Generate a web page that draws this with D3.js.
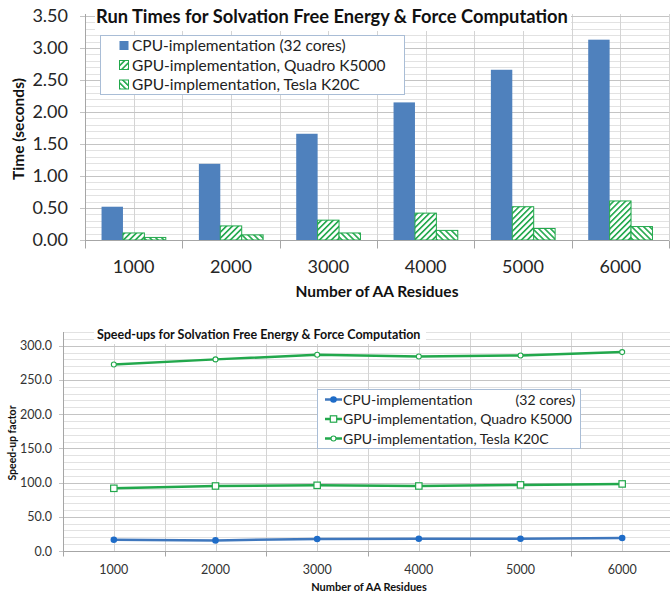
<!DOCTYPE html>
<html>
<head>
<meta charset="utf-8">
<script src="https://cdn.jsdelivr.net/npm/d3@7"></script>
<style>
  body { margin: 0; background: #fff; }
  svg { display: block; font-family: Lato, "Open Sans", sans-serif; }
</style>
</head>
<body>
<svg id="chart" width="670" height="593"></svg>
<script>
// data
var residues = ["1000", "2000", "3000", "4000", "5000", "6000"];
var seriesNames = ["CPU-implementation (32 cores)", "GPU-implementation, Quadro K5000", "GPU-implementation, Tesla K20C"];
var lineLegendNames = ["CPU-implementation            (32 cores)", "GPU-implementation, Quadro K5000", "GPU-implementation, Tesla K20C"];

var cpuTimes = [0.52, 1.19, 1.66, 2.15, 2.66, 3.13];
var quadroTimes = [0.11, 0.22, 0.31, 0.42, 0.52, 0.61];
var teslaTimes = [0.04, 0.08, 0.11, 0.15, 0.18, 0.21];

var cpuSpeedup = [16.5, 15.5, 17.5, 18.0, 18.0, 19.0];
var quadroSpeedup = [91.6, 95.0, 96.0, 95.0, 96.6, 98.0];
var teslaSpeedup = [272.6, 280.0, 286.7, 284.3, 285.7, 290.6];

var timeTicks = [0, 0.5, 1.0, 1.5, 2.0, 2.5, 3.0, 3.5];
var speedTicks = [0, 50, 100, 150, 200, 250, 300];

var blue = "#4f81bd";
var green = "#22a84c";
var minorGrid = "#e2e2e2";
var majorGrid = "#c4c4c4";

var svg = d3.select("#chart");
var defs = svg.append("defs");

// hatch fills for the GPU bars
function hatch(id, angle) {
  var p = defs.append("pattern")
    .attr("id", id)
    .attr("patternUnits", "userSpaceOnUse")
    .attr("width", 4.2)
    .attr("height", 4.2)
    .attr("patternTransform", "rotate(" + angle + ")");
  p.append("rect").attr("width", 4.2).attr("height", 4.2).attr("fill", "#fff");
  p.append("rect").attr("width", 1.6).attr("height", 4.2).attr("fill", green);
}
hatch("hatchUp", 45);
hatch("hatchDown", -45);
var barFills = [blue, "url(#hatchUp)", "url(#hatchDown)"];

// ---------------- top chart: run times ----------------
var box1 = { left: 85, right: 669, top: 16, bottom: 240 };

var x1 = d3.scaleBand().domain(residues)
  .range([box1.left, box1.right])
  .paddingInner(0.34).paddingOuter(0.17);
var xSub = d3.scaleBand().domain([0, 1, 2]).range([0, x1.bandwidth()]);
var y1 = d3.scaleLinear().domain([0, 3.5]).range([box1.bottom, box1.top]);

var g1 = svg.append("g");

// spreadsheet-like grid
g1.selectAll("line.minor")
  .data(d3.range(0, 36).map(function(d) { return d / 10; }))
  .enter().append("line")
  .attr("x1", box1.left).attr("x2", box1.right)
  .attr("y1", function(d) { return Math.round(y1(d)) + 0.5; })
  .attr("y2", function(d) { return Math.round(y1(d)) + 0.5; })
  .attr("stroke", minorGrid);

var step1 = x1.step();
var vlines1 = d3.range(0, 13).map(function(i) { return box1.left + i * step1 / 2; });
g1.selectAll("line.vgrid")
  .data(vlines1)
  .enter().append("line")
  .attr("x1", function(d) { return Math.round(d) + 0.5; })
  .attr("x2", function(d) { return Math.round(d) + 0.5; })
  .attr("y1", box1.top - 2).attr("y2", box1.bottom)
  .attr("stroke", "#d4d4d4");

g1.selectAll("line.major")
  .data(timeTicks)
  .enter().append("line")
  .attr("x1", box1.left - 5).attr("x2", box1.right)
  .attr("y1", function(d) { return Math.round(y1(d)) + 0.5; })
  .attr("y2", function(d) { return Math.round(y1(d)) + 0.5; })
  .attr("stroke", majorGrid);

// title with white backing
g1.append("rect").attr("x", 95).attr("y", 0).attr("width", 476).attr("height", 31).attr("fill", "#fff");
g1.append("text")
  .attr("x", 332).attr("y", 23)
  .attr("text-anchor", "middle")
  .attr("font-size", 18.3).attr("font-weight", "bold")
  .attr("fill", "#111")
  .text("Run Times for Solvation Free Energy & Force Computation");

// bars
var timeSeries = [cpuTimes, quadroTimes, teslaTimes];
timeSeries.forEach(function(vals, s) {
  g1.selectAll("rect.s" + s)
    .data(vals)
    .enter().append("rect")
    .attr("x", function(d, i) { return x1(residues[i]) + xSub(s); })
    .attr("width", xSub.bandwidth())
    .attr("y", function(d) { return y1(d); })
    .attr("height", function(d) { return y1(0) - y1(d); })
    .attr("fill", barFills[s])
    .attr("stroke", s === 0 ? "none" : green)
    .attr("stroke-width", 1);
});

// axes
g1.append("line")
  .attr("x1", box1.left + 0.5).attr("x2", box1.left + 0.5)
  .attr("y1", box1.top - 2).attr("y2", box1.bottom)
  .attr("stroke", "#a6a6a6");

var xAxis1 = g1.append("g").attr("transform", "translate(0," + (box1.bottom + 0.5) + ")");
xAxis1.append("line").attr("x1", box1.left).attr("x2", box1.right).attr("stroke", "#a6a6a6");
xAxis1.selectAll("line.tick")
  .data(d3.range(0, 7))
  .enter().append("line")
  .attr("x1", function(i) { return Math.round(box1.left + i * step1) + 0.5; })
  .attr("x2", function(i) { return Math.round(box1.left + i * step1) + 0.5; })
  .attr("y1", 0).attr("y2", 8)
  .attr("stroke", "#a6a6a6");
xAxis1.selectAll("text")
  .data(residues)
  .enter().append("text")
  .attr("x", function(d) { return x1(d) + x1.bandwidth() / 2; })
  .attr("y", 32)
  .attr("text-anchor", "middle")
  .attr("font-size", 18)
  .attr("fill", "#262626")
  .text(function(d) { return d; });

g1.selectAll("text.ylab")
  .data(timeTicks)
  .enter().append("text")
  .attr("x", 68)
  .attr("y", function(d) { return y1(d) + 6; })
  .attr("text-anchor", "end")
  .attr("font-size", 18)
  .attr("fill", "#262626")
  .text(function(d) { return d3.format(".2f")(d); });

g1.append("text")
  .attr("transform", "translate(24,129) rotate(-90)")
  .attr("text-anchor", "middle")
  .attr("font-size", 15.5).attr("font-weight", "bold")
  .attr("fill", "#111")
  .text("Time (seconds)");

g1.append("text")
  .attr("x", 377).attr("y", 297)
  .attr("text-anchor", "middle")
  .attr("font-size", 15.5).attr("font-weight", "bold")
  .attr("fill", "#111")
  .text("Number of AA Residues");

// legend
var leg1 = g1.append("g");
leg1.append("rect")
  .attr("x", 100.5).attr("y", 35.5).attr("width", 304).attr("height", 59)
  .attr("fill", "#fff").attr("stroke", "#a9bdd6");
seriesNames.forEach(function(name, s) {
  var cy = 45.5 + s * 19.5;
  leg1.append("rect")
    .attr("x", 119.5).attr("y", cy - 4.5).attr("width", 9).attr("height", 9)
    .attr("fill", barFills[s])
    .attr("stroke", s === 0 ? "none" : green);
  leg1.append("text")
    .attr("x", 132).attr("y", cy + 5.5)
    .attr("font-size", 15.5)
    .attr("fill", "#222")
    .text(name);
});

// ---------------- bottom chart: speed-ups ----------------
var box2 = { left: 63, right: 673, top: 332, bottom: 551 };

var x2 = d3.scaleBand().domain(residues).range([box2.left, box2.right]);
var y2 = d3.scaleLinear().domain([0, 320]).range([box2.bottom, box2.top]);
var step2 = x2.step();
function cx2(i) { return x2(residues[i]) + step2 / 2; }

var g2 = svg.append("g");

g2.selectAll("line.minor")
  .data(d3.range(0, 33).map(function(d) { return d * 10; }))
  .enter().append("line")
  .attr("x1", box2.left).attr("x2", box2.right)
  .attr("y1", function(d) { return Math.round(y2(d)) + 0.5; })
  .attr("y2", function(d) { return Math.round(y2(d)) + 0.5; })
  .attr("stroke", minorGrid);

g2.selectAll("line.vgrid")
  .data(d3.range(0, 13).map(function(i) { return box2.left + i * step2 / 2; }))
  .enter().append("line")
  .attr("x1", function(d) { return Math.round(d) + 0.5; })
  .attr("x2", function(d) { return Math.round(d) + 0.5; })
  .attr("y1", box2.top).attr("y2", box2.bottom)
  .attr("stroke", "#d4d4d4");

g2.selectAll("line.major")
  .data(speedTicks)
  .enter().append("line")
  .attr("x1", box2.left - 4).attr("x2", box2.right)
  .attr("y1", function(d) { return Math.round(y2(d)) + 0.5; })
  .attr("y2", function(d) { return Math.round(y2(d)) + 0.5; })
  .attr("stroke", majorGrid);

g2.append("line")
  .attr("x1", box2.left + 0.5).attr("x2", box2.left + 0.5)
  .attr("y1", box2.top).attr("y2", box2.bottom)
  .attr("stroke", "#a6a6a6");

g2.append("rect").attr("x", 94).attr("y", 324).attr("width", 332).attr("height", 20).attr("fill", "#fff");
g2.append("text")
  .attr("x", 97).attr("y", 339)
  .attr("font-size", 12.5).attr("font-weight", "bold")
  .attr("fill", "#111")
  .text("Speed-ups for Solvation Free Energy & Force Computation");

var xAxis2 = g2.append("g").attr("transform", "translate(0," + (Math.round(box2.bottom) + 0.5) + ")");
xAxis2.append("line").attr("x1", box2.left).attr("x2", box2.right).attr("stroke", "#a6a6a6");
xAxis2.selectAll("line.tick")
  .data(d3.range(0, 7))
  .enter().append("line")
  .attr("x1", function(i) { return Math.round(box2.left + i * step2) + 0.5; })
  .attr("x2", function(i) { return Math.round(box2.left + i * step2) + 0.5; })
  .attr("y1", 0).attr("y2", 5)
  .attr("stroke", "#a6a6a6");
xAxis2.selectAll("text")
  .data(residues)
  .enter().append("text")
  .attr("x", function(d) { return x2(d) + step2 / 2; })
  .attr("y", 22)
  .attr("text-anchor", "middle")
  .attr("font-size", 12.5)
  .attr("fill", "#333")
  .text(function(d) { return d; });

g2.selectAll("text.ylab")
  .data(speedTicks)
  .enter().append("text")
  .attr("x", 52)
  .attr("y", function(d) { return y2(d) + 4.5; })
  .attr("text-anchor", "end")
  .attr("font-size", 12.5)
  .attr("fill", "#333")
  .text(function(d) { return d3.format(".1f")(d); });

g2.append("text")
  .attr("transform", "translate(16,443) rotate(-90)")
  .attr("text-anchor", "middle")
  .attr("font-size", 10.5).attr("font-weight", "bold")
  .attr("fill", "#111")
  .text("Speed-up factor");

g2.append("text")
  .attr("x", 369).attr("y", 591)
  .attr("text-anchor", "middle")
  .attr("font-size", 11).attr("font-weight", "bold")
  .attr("fill", "#111")
  .text("Number of AA Residues");

// lines
var lineColors = ["#3f77bd", green, green];
var speedSeries = [cpuSpeedup, quadroSpeedup, teslaSpeedup];
var line = d3.line()
  .x(function(d, i) { return cx2(i); })
  .y(function(d) { return y2(d); });

function marker(sel, s) {
  if (s === 0) {
    sel.append("circle").attr("r", 3.3).attr("fill", "#1e6cc8");
  } else if (s === 1) {
    sel.append("rect").attr("x", -3.2).attr("y", -3.2).attr("width", 6.4).attr("height", 6.4)
      .attr("fill", "#fff").attr("stroke", green).attr("stroke-width", 1.2);
  } else {
    sel.append("circle").attr("r", 2.5)
      .attr("fill", "#fff").attr("stroke", green).attr("stroke-width", 1.1);
  }
}

speedSeries.forEach(function(vals, s) {
  g2.append("path")
    .datum(vals)
    .attr("d", line)
    .attr("fill", "none")
    .attr("stroke", lineColors[s])
    .attr("stroke-width", 2.5);
  vals.forEach(function(v, i) {
    var m = g2.append("g").attr("transform", "translate(" + cx2(i) + "," + y2(v) + ")");
    marker(m, s);
  });
});

// legend
var leg2 = g2.append("g");
leg2.append("rect")
  .attr("x", 317.5).attr("y", 389.5).attr("width", 263).attr("height", 59)
  .attr("fill", "#fff").attr("stroke", "#a9bdd6");
lineLegendNames.forEach(function(name, s) {
  var cy = 399.5 + s * 19.5;
  leg2.append("line")
    .attr("x1", 325).attr("x2", 342).attr("y1", cy).attr("y2", cy)
    .attr("stroke", lineColors[s]).attr("stroke-width", 2.5);
  var m = leg2.append("g").attr("transform", "translate(333.5," + cy + ")");
  marker(m, s);
  leg2.append("text")
    .attr("x", 343).attr("y", cy + 5)
    .attr("font-size", 14)
    .attr("fill", "#222")
    .style("white-space", "pre")
    .text(name);
});
</script>
</body>
</html>
